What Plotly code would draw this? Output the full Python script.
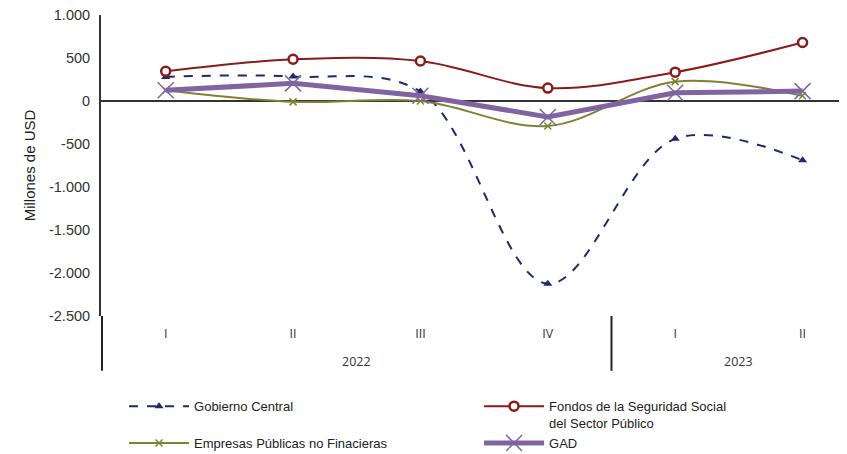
# Imports.
import plotly.graph_objects as go

# Quarters and years for the two-level category axis.
years = ['2022', '2022', '2022', '2022', '2023', '2023']
quarters = ['I', 'II', 'III', 'IV', 'I', 'II']

# Series values in millions of USD.
gobierno_central = [280, 285, 110, -2125, -440, -690]
fondos_seguridad = [345, 485, 465, 150, 335, 680]
empresas_publicas = [125, -10, 0, -290, 225, 60]
gad = [125, 205, 60, -185, 95, 115]

# Y tick values and their labels (dot as thousands separator).
y_ticks = [1000, 500, 0, -500, -1000, -1500, -2000, -2500]
y_tick_labels = ['1.000', '500', '0', '-500', '-1.000', '-1.500', '-2.000', '-2.500']

# One category key per quarter; the axis shows only the quarter.
x_keys = [y + ' ' + q for y, q in zip(years, quarters)]

fig = go.Figure()

# Gobierno Central: dashed navy with triangles.
fig.add_trace(go.Scatter(x=x_keys, y=gobierno_central, name='Gobierno Central',
                         mode='lines+markers', line=dict(color='#1f2a6e', width=2, dash='dash', shape='spline', smoothing=1),
                         marker=dict(symbol='triangle-up', size=8, color='#1f2a6e')))

# Fondos de la Seguridad Social: dark red with open circles.
fig.add_trace(go.Scatter(x=x_keys, y=fondos_seguridad, name='Fondos de la Seguridad Social<br>del Sector Público',
                         mode='lines+markers', line=dict(color='#8b1a1a', width=2, shape='spline', smoothing=1),
                         marker=dict(symbol='circle', size=9, color='white', line=dict(color='#8b1a1a', width=2.5))))

# Empresas Publicas: olive with small crosses.
fig.add_trace(go.Scatter(x=x_keys, y=empresas_publicas, name='Empresas Públicas no Finacieras',
                         mode='lines+markers', line=dict(color='#808232', width=2, shape='spline', smoothing=1),
                         marker=dict(symbol='x-thin-open', size=7, color='#808232', line=dict(color='#808232', width=1.5))))

# GAD: thick purple line with big crosses.
fig.add_trace(go.Scatter(x=x_keys, y=gad, name='GAD',
                         mode='lines+markers', line=dict(color='#8064a2', width=5),
                         marker=dict(symbol='x-thin-open', size=16, color='#8064a2', line=dict(color='#8064a2', width=1.5))))

# Year labels centred under their quarters, and dividers between year groups.
groups = []
for i, y in enumerate(years):
    if not groups or groups[-1][0] != y:
        groups.append([y, i, i])
    else:
        groups[-1][2] = i

for y, first, last in groups:
    fig.add_annotation(x=(first + last) / 2, y=-0.152, xref='x', yref='paper', text=y, showarrow=False,
                       yanchor='middle', font=dict(family='Open Sans, sans-serif', size=12.5, color='#333333'))
    fig.add_shape(type='line', xref='x', yref='paper', x0=first - 0.5, x1=first - 0.5, y0=0, y1=-0.182,
                  line=dict(color='#222222', width=2))

fig.update_layout(
    width=847, height=454,
    margin=dict(l=93, r=5, t=7, b=146, autoexpand=False),
    plot_bgcolor='white', paper_bgcolor='white',
    font=dict(family='Liberation Sans, Arial, sans-serif', size=13, color='#333333'),
    legend=dict(orientation='h', x=0.137, y=0.156, xanchor='left', yanchor='top', xref='container', yref='container',
                entrywidth=280, entrywidthmode='pixels', itemwidth=60, valign='top',
                font=dict(size=13, color='#222222'), traceorder='normal'),
)

fig.update_xaxes(type='category', tickvals=x_keys, ticktext=quarters, showgrid=False, showline=False,
                 ticks='', automargin=False, ticklabelstandoff=8,
                 tickfont=dict(family='Open Sans, sans-serif', size=12.5, color='#333333'))

fig.update_yaxes(range=[-2500, 1000], tickvals=y_ticks, ticktext=y_tick_labels, automargin=False,
                 showgrid=False, showline=True, linecolor='#333333', linewidth=2, ticklabelstandoff=6,
                 ticklabeloverflow='allow',
                 zeroline=True, zerolinecolor='#333333', zerolinewidth=2, ticks='',
                 tickfont=dict(size=14.5, color='#333333'),
                 title=dict(text='Millones de USD', standoff=10, font=dict(size=15, color='#222222')))

fig.write_html('out.html')
